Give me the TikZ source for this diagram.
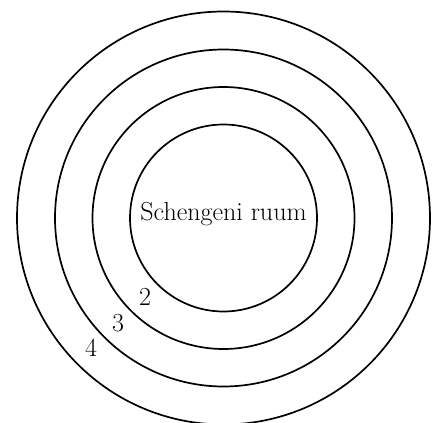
\documentclass[tikz,border=0pt]{standalone}
\begin{document}
\begin{tikzpicture}[x=1pt,y=-1pt,
  lbl/.style={font=\fontsize{26}{31}\selectfont,inner sep=0pt}]
\useasboundingbox (0,0) rectangle (434,423);
\coordinate (c) at (223.5,218);
\draw[line width=1.7pt] (c) circle[radius=93.5];
\draw[line width=1.7pt] (c) circle[radius=131];
\draw[line width=1.7pt] (c) circle[radius=168.5];
\draw[line width=1.7pt] (c) circle[radius=206.5];
\node[lbl] (s) at (223.5,214) {Schengeni ruum};
\node[lbl] (n2) at (145,297) {2};
\node[lbl] (n3) at (118,323) {3};
\node[lbl] (n4) at (91,348) {4};
\end{tikzpicture}
\end{document}
